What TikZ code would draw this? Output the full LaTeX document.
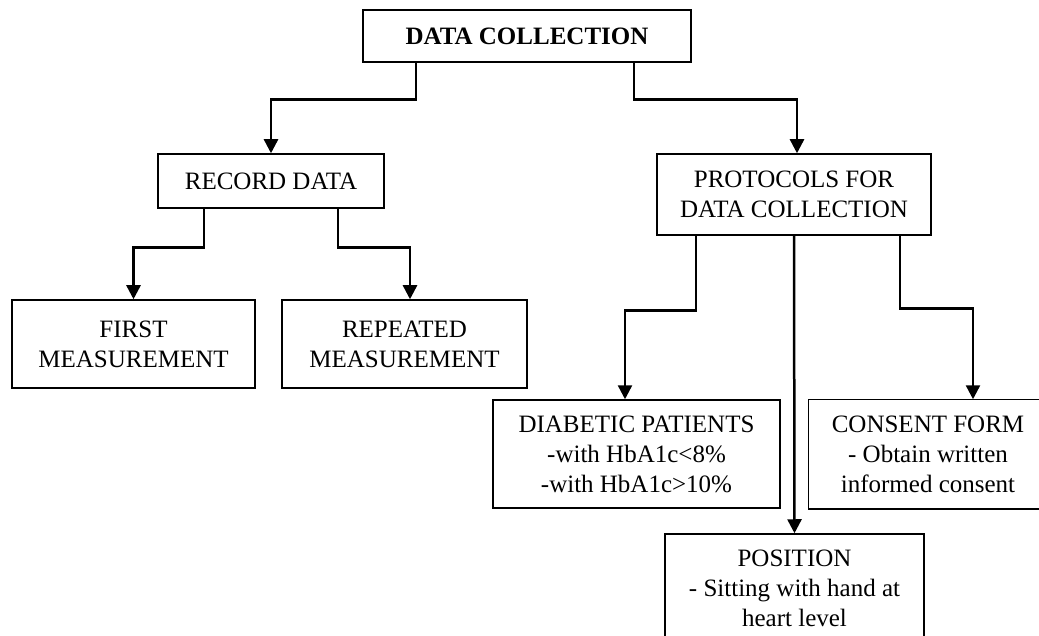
\documentclass[tikz,border=0pt]{standalone}
\usepackage{fontspec}
\setmainfont{Liberation Serif}
\usetikzlibrary{arrows.meta}
\tikzset{
    box/.style={draw, line width=1.5pt, align=center, inner sep=0pt, font=\fontsize{25}{30}\selectfont},
    arr/.style={line width=2.5pt, -{Triangle[length=14pt,width=14pt]}}
}
\begin{document}
\begin{tikzpicture}[x=1pt,y=-1pt]
    \clip (0,0) rectangle (1039,636);
    \node[box, minimum width=328pt, minimum height=52pt] (collect) at (527,36) {\textbf{DATA COLLECTION}};
    \node[box, minimum width=226pt, minimum height=54pt] (record) at (271,181) {RECORD DATA};
    \node[box, minimum width=274pt, minimum height=81pt] (protocols) at (794,194.5) {PROTOCOLS FOR\\DATA COLLECTION};
    \node[box, minimum width=243pt, minimum height=88pt] (first) at (133.5,344) {FIRST\\MEASUREMENT};
    \node[box, minimum width=245pt, minimum height=88pt] (repeated) at (404.5,344) {REPEATED\\MEASUREMENT};
    \node[box, minimum width=287pt, minimum height=108pt] (diabetic) at (636.5,454) {DIABETIC PATIENTS\\-with HbA1c<8\%\\-with HbA1c>10\%};
    \node[box, draw=none, minimum width=238pt, minimum height=108pt] (consent) at (928,454) {CONSENT FORM\\- Obtain written\\informed consent};
    \draw[line width=1.5pt] ([xshift=30pt]consent.north east) -- (consent.north west) -- (consent.south west) -- ([xshift=30pt]consent.south east);
    \node[box, minimum width=259pt, minimum height=108pt] (position) at (794.5,588) {POSITION\\- Sitting with hand at\\heart level};
    \draw[arr] ([xshift=-111pt]collect.south) -- ++(0,37) -| (record.north);
    \draw[arr] ([xshift=107pt]collect.south) -- ++(0,37) -| ([xshift=3pt]protocols.north);
    \draw[arr] ([xshift=-67pt]record.south) -- ++(0,39) -| (first.north);
    \draw[arr] ([xshift=67pt]record.south) -- ++(0,39) -| ([xshift=5.5pt]repeated.north);
    \draw[arr] ([xshift=-98pt]protocols.south) -- ++(0,75) -| ([xshift=-11.5pt]diabetic.north);
    \draw[arr] (protocols.south) -- (position.north);
    \draw[arr] ([xshift=106pt]protocols.south) -- ++(0,73) -| ([xshift=45pt]consent.north);
\end{tikzpicture}
\end{document}
